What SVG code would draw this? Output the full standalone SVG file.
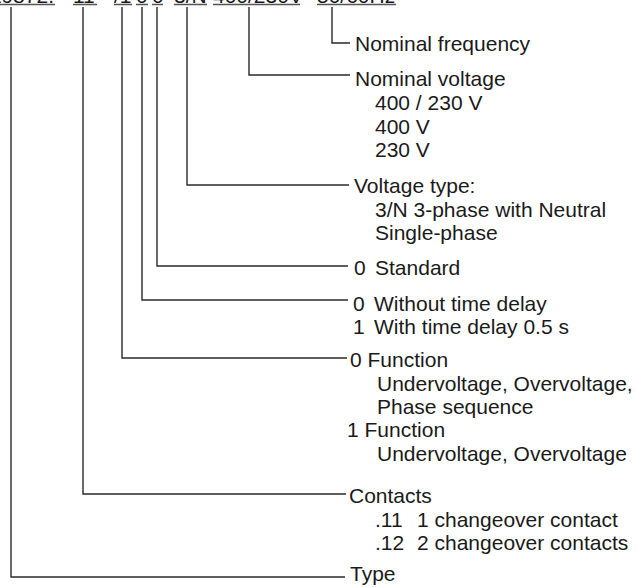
<svg xmlns="http://www.w3.org/2000/svg" width="637" height="587" viewBox="0 0 637 587">
<style>
text{font-family:"Liberation Sans",Arial,sans-serif;font-size:21px;fill:#1a1a1a}
.ul{stroke:#555;stroke-width:1.4;fill:none}
.c{stroke:#2a2a2a;stroke-width:1.4;fill:none}
</style>
<rect width="637" height="587" fill="#fff"/>
<g id="code">
<text x="54" y="2.5" text-anchor="end">IL9872.</text>
<text x="73" y="2.5">11</text>
<text x="114" y="2.5">/1</text>
<text x="136" y="2.5">0</text>
<text x="152" y="2.5">0</text>
<text x="174" y="2.5">3/N</text>
<text x="213" y="2.5">400/230V</text>
<text x="317" y="2.5">50/60Hz</text>
<path class="ul" d="M0 4.5H55M73 4.5H97M114 4.5H132M136 4.5H148M152 4.5H163M174 4.5H207M213 4.5H300M317 4.5H396"/>
</g>
<g id="connectors">
<path class="c" d="M332 7V43H350"/>
<path class="c" d="M249 7V75H350"/>
<path class="c" d="M187 7V185H349"/>
<path class="c" d="M157 7V266H348"/>
<path class="c" d="M142 7V300H348"/>
<path class="c" d="M122 7V358H347"/>
<path class="c" d="M83 7V494H346"/>
<path class="c" d="M11 7V577H345"/>
</g>
<g id="frequency"><text x="355" y="50.5">Nominal frequency</text></g>
<g id="voltage">
<text x="355" y="86">Nominal voltage</text>
<text x="375" y="110">400 / 230 V</text>
<text x="375" y="134">400 V</text>
<text x="375" y="157">230 V</text>
</g>
<g id="voltage-type">
<text x="354" y="193">Voltage type:</text>
<text x="375" y="217">3/N 3-phase with Neutral</text>
<text x="375" y="240">Single-phase</text>
</g>
<g id="standard">
<text x="354" y="275">0</text><text x="375" y="275">Standard</text>
</g>
<g id="delay">
<text x="353" y="311">0</text><text x="374" y="311">Without time delay</text>
<text x="353" y="334">1</text><text x="374" y="334">With time delay 0.5 s</text>
</g>
<g id="function">
<text x="350" y="367">0 Function</text>
<text x="377" y="390.5">Undervoltage, Overvoltage,</text>
<text x="377" y="414">Phase sequence</text>
<text x="347" y="437">1 Function</text>
<text x="377" y="460.5">Undervoltage, Overvoltage</text>
</g>
<g id="contacts">
<text x="349" y="503">Contacts</text>
<text x="375" y="527">.11</text><text x="417" y="527">1 changeover contact</text>
<text x="375" y="550">.12</text><text x="417" y="550">2 changeover contacts</text>
</g>
<g id="type"><text x="350" y="581">Type</text></g>
</svg>
